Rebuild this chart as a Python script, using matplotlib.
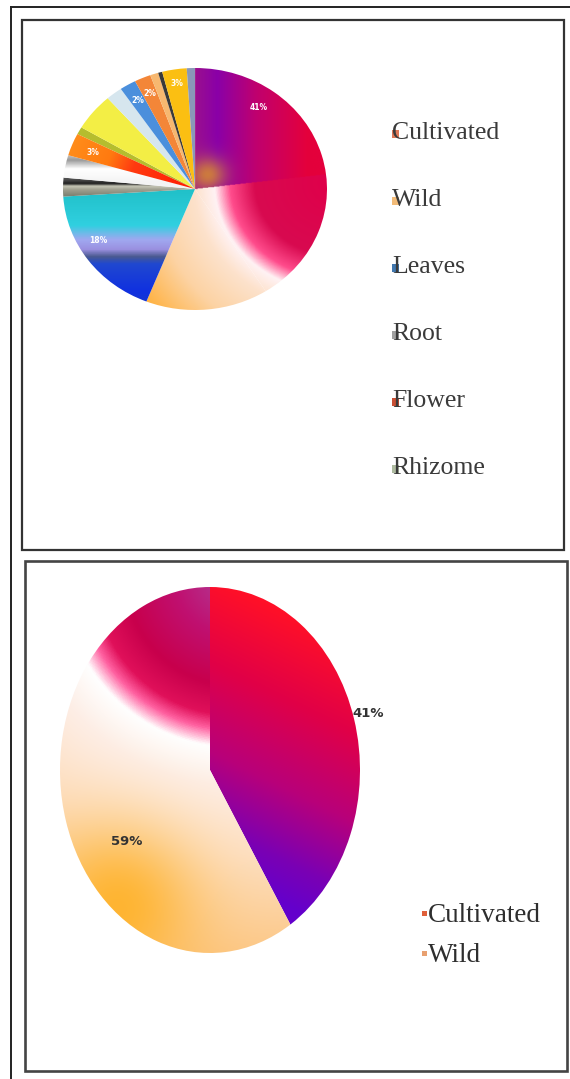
import numpy as np
import matplotlib
matplotlib.use("Agg")
import matplotlib.pyplot as plt
from matplotlib.colors import LinearSegmentedColormap
from matplotlib.patches import Rectangle
from matplotlib.lines import Line2D

W, H = 570, 1079

# upper chart: share of each plant part / source
parts = ["Cultivated", "Wild", "Leaves", "Root", "Bark", "Flower", "Rhizome",
         "Seed", "Fruit", "Stem", "Tuber", "Bulb", "Gum", "Latex", "Whole plant"]
part_share = [41, 15, 18, 2.5, 3, 3, 1, 5, 2, 2, 2, 1, 0.5, 3, 1]
legend_top = ["Cultivated", "Wild", "Leaves", "Root", "Flower", "Rhizome"]

# lower chart: source of the plants
sources = ["Cultivated", "Wild"]
source_share = [41, 59]


def fx(px):
    return px / W


def fy(py):
    return 1 - py / H


def ramp(stops, t):
    cm = LinearSegmentedColormap.from_list("r", stops)
    return cm(np.clip(t, 0, 1))[..., :3]


def blend(rgb, color, w):
    c = np.array(matplotlib.colors.to_rgb(color))
    w = w[..., None]
    return rgb * (1 - w) + c * w


N = 400
X, Y = np.meshgrid(np.linspace(-1, 1, N), np.linspace(-1, 1, N))
R = np.hypot(X, Y)
THETA = np.degrees(np.arctan2(X, Y)) % 360


def fill_wedge(ax, wedge, rgb):
    wedge.set_facecolor("none")
    im = ax.imshow(rgb, extent=(-1, 1, -1, 1), origin="lower",
                   aspect="auto", interpolation="bilinear", zorder=wedge.get_zorder())
    im.set_clip_path(wedge)


def pie_axes(x0, y0, x1, y1):
    return fig.add_axes([fx(x0), fy(y1), fx(x1) - fx(x0), (y1 - y0) / H])


def label_xy(values, i, frac, dist):
    cum = np.concatenate([[0], np.cumsum(values)]) / sum(values)
    a = np.radians(360 * (cum[i] + frac * (cum[i + 1] - cum[i])))
    return dist * np.sin(a), dist * np.cos(a)


fig = plt.figure(figsize=(W / 100, H / 100), dpi=100)

# frames
fig.add_artist(Line2D([fx(11), fx(570)], [fy(7), fy(7)], color="#222222", lw=1.4))
fig.add_artist(Line2D([fx(11), fx(11)], [fy(7), fy(1079)], color="#222222", lw=1.4))
fig.add_artist(Rectangle((fx(22), fy(550)), fx(564) - fx(22), (550 - 20) / H,
                         fill=False, ec="#333333", lw=1.6))
fig.add_artist(Rectangle((fx(25), fy(1071)), fx(567) - fx(25), (1071 - 561) / H,
                         fill=False, ec="#444444", lw=1.9))

# ---- upper pie ----
ax1 = pie_axes(63, 68, 327, 310)
flat = {6: "#b5bd2e", 7: "#f3ee45", 8: "#d6e6ee", 9: "#4b8fdc", 10: "#f38638",
        11: "#f7b870", 12: "#3a3a3a", 13: "#fbbf12", 14: "#8a98b8"}
wedges, _ = ax1.pie(part_share, colors=[flat.get(i, "#cccccc") for i in range(len(parts))],
                    startangle=90, counterclock=False, radius=1,
                    wedgeprops=dict(linewidth=0))
ax1.set_aspect("auto")
ax1.set_xlim(-1, 1)
ax1.set_ylim(-1, 1)
ax1.axis("off")

# cultivated: crimson to purple, warm radial part lower down
cult = ramp([(0, "#e4003c"), (0.45, "#c0006e"), (0.8, "#8a00a8"), (1, "#9a108e")], 1 - X / 0.85)
cult = blend(cult, "#e0a020", 0.75 * np.exp(-((X - 0.1) ** 2 + (Y - 0.12) ** 2) / (2 * 0.1 ** 2)))
D = np.hypot(X - 1.05, Y - 0.05)
warm = ramp([(0, "#e0004a"), (0.35, "#d80a50"), (0.46, "#ff4c8c"), (0.53, "#fff2f4"),
             (0.62, "#fde2cc"), (0.8, "#fcd3a4"), (1, "#ffb448")], D / 1.7)
cult = np.where((THETA > 83)[..., None], warm, cult)
fill_wedge(ax1, wedges[0], cult)
fill_wedge(ax1, wedges[1], warm)

leaves = ramp([(0, "#20c0c8"), (0.3, "#30d0e0"), (0.42, "#a0a8f0"), (0.5, "#9a90e0"),
               (0.56, "#4a5a90"), (0.62, "#2048d0"), (0.85, "#1030e0"), (1, "#1838c8")], -Y)
fill_wedge(ax1, wedges[2], leaves)

root = ramp([(0, "#7a8070"), (0.4, "#a0a090"), (0.6, "#c8c8b8"), (0.75, "#202020"),
             (1, "#505050")], (Y + 0.06) / 0.14)
fill_wedge(ax1, wedges[3], root)

bark = ramp([(0, "#f4f4f4"), (0.45, "#ffffff"), (0.75, "#9a9a9a"), (1, "#d8d8d8")],
            (Y - 0.06) / 0.24)
fill_wedge(ax1, wedges[4], bark)

flower = ramp([(0, "#ff1a00"), (0.5, "#ff3a10"), (0.7, "#ff7a10"), (1, "#ff8c1a")], R)
fill_wedge(ax1, wedges[5], flower)

top_labels = {0: (0.24, 0.83), 2: (0.59, 0.85), 5: (0.5, 0.83),
              9: (0.5, 0.85), 10: (0.5, 0.86), 13: (0.5, 0.88)}
for i, (frac, dist) in top_labels.items():
    lx, ly = label_xy(part_share, i, frac, dist)
    ax1.text(lx, ly, f"{part_share[i]:.0f}%", color="white", fontsize=5.5,
             fontweight="bold", ha="center", va="center", zorder=5)

# legend of the upper chart
top_marks = ["#d9603b", "#f0b060", "#1f5fa0", "#909090", "#c03010", "#a0b090"]
for k, name in enumerate(legend_top):
    yc = 133 + 67 * k
    fig.text(fx(392), fy(yc), name, family="Liberation Serif", fontsize=18.5,
             color="#3a3a3a", ha="left", va="center")
    fig.add_artist(Rectangle((fx(392), fy(yc + 5)), 7 / W, 8 / H,
                             color=top_marks[k], lw=0, alpha=0.85))

# ---- lower pie ----
ax2 = pie_axes(60, 587, 360, 953)
wedges2, _ = ax2.pie(source_share, colors=["#cccccc", "#cccccc"], startangle=90,
                     counterclock=False, radius=1, wedgeprops=dict(linewidth=0))
ax2.set_aspect("auto")
ax2.set_xlim(-1, 1)
ax2.set_ylim(-1, 1)
ax2.axis("off")

cult2 = ramp([(0, "#ff1028"), (0.3, "#e00048"), (0.6, "#b8007a"), (0.85, "#7a00b4"),
              (1, "#6400cc")], (0.9 - Y) / 1.6 + (0.4 - X) * 0.25)
fill_wedge(ax2, wedges2[0], cult2)

PX = 210 + X * 150
PY = 770 - Y * 183
D2 = np.hypot(PX - 235, PY - 575)
wild2 = ramp([(0, "#b0409a"), (60 / 380, "#c01070"), (110 / 380, "#c8004c"),
              (140 / 380, "#e0105a"), (155 / 380, "#ff60a0"), (172 / 380, "#ffffff"),
              (210 / 380, "#fdeee6"), (280 / 380, "#fde0c4"), (1, "#fcc888")], D2 / 380)
wild2 = blend(wild2, "#ffb020", 0.85 * np.exp(-((PX - 118) ** 2 + (PY - 905) ** 2) / (2 * 55 ** 2)))
fill_wedge(ax2, wedges2[1], wild2)

for i, (frac, dist) in {0: (0.5, 1.1), 1: (0.41, 0.68)}.items():
    lx, ly = label_xy(source_share, i, frac, dist)
    ax2.text(lx, ly, f"{source_share[i]}%", color="#333333", fontsize=9.5,
             family="Liberation Sans Narrow", fontweight="bold",
             ha="center", va="center", zorder=5, clip_on=False)

low_marks = ["#e0603a", "#e8a070"]
for k, name in enumerate(sources):
    yc = 915 + 40 * k
    fig.text(fx(428), fy(yc), name, family="Liberation Serif", fontsize=19.5,
             color="#2e2e2e", ha="left", va="center")
    fig.add_artist(Rectangle((fx(422), fy(yc + 1)), 5 / W, 5 / H,
                             color=low_marks[k], lw=0))

fig.savefig("out.png", dpi=100, facecolor="white")
